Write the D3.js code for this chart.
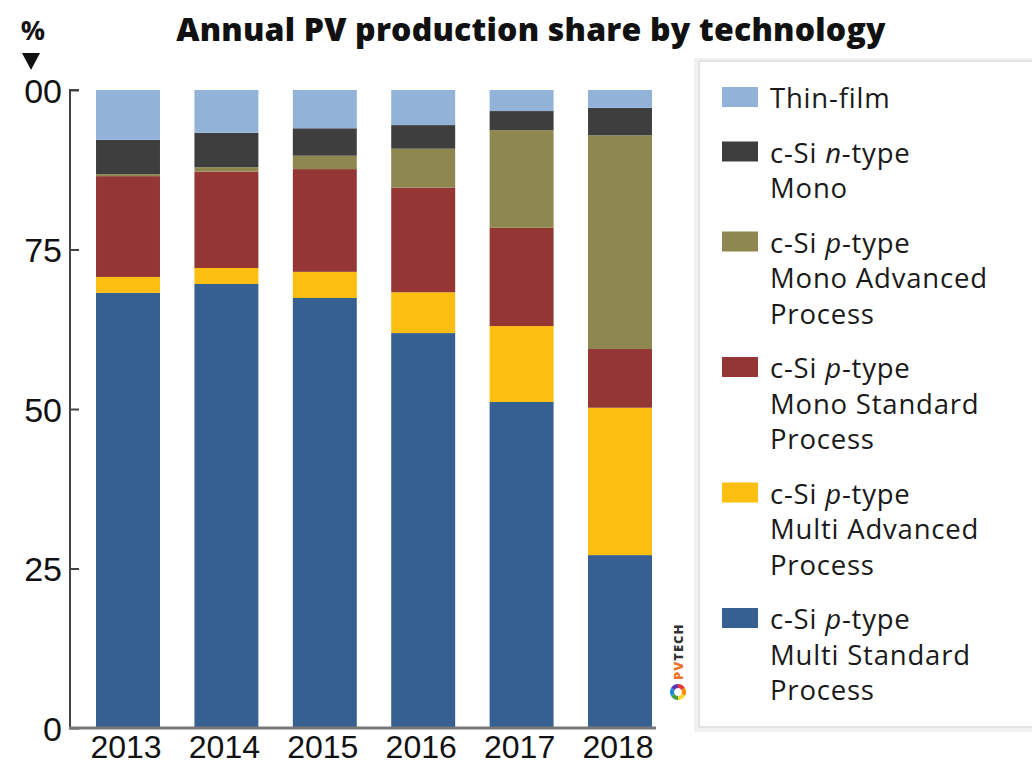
<!DOCTYPE html>
<html>
<head>
<meta charset="utf-8">
<script src="https://cdn.jsdelivr.net/npm/d3@7"></script>
<style>
  body { margin: 0; background: #fff; }
  svg { display: block; }
</style>
</head>
<body>
<div id="chart"></div>
<script>
// Data (% of annual production)
const years = ["2013", "2014", "2015", "2016", "2017", "2018"];
const multiStandard = [68.2, 69.6, 67.4, 61.9, 51.1, 27.1];
const multiAdvanced = [2.5, 2.5, 4.1, 6.4, 11.9, 23.1];
const monoStandard = [15.8, 15.1, 16.1, 16.4, 15.4, 9.2];
const monoAdvanced = [0.3, 0.7, 2.1, 6.1, 15.3, 33.5];
const nTypeMono = [5.4, 5.4, 4.3, 3.7, 3.0, 4.3];
const thinFilm = [7.8, 6.7, 6.0, 5.5, 3.3, 2.8];
const yTicks = [0, 25, 50, 75, 100];

// series from bottom to top
const seriesKeys = ["multiStd", "multiAdv", "monoStd", "monoAdv", "nType", "thin"];
const colors = {
  multiStd: "#365f92",
  multiAdv: "#fcbe10",
  monoStd: "#933634",
  monoAdv: "#8e8750",
  nType: "#3e3e3e",
  thin: "#93b2d8"
};

// legend, top to bottom. [before italic, italic, after] for each line
const legendItems = [
  { key: "thin", lines: [["Thin-film"]] },
  { key: "nType", lines: [["c-Si ", "n", "-type"], ["Mono"]] },
  { key: "monoAdv", lines: [["c-Si ", "p", "-type"], ["Mono Advanced"], ["Process"]] },
  { key: "monoStd", lines: [["c-Si ", "p", "-type"], ["Mono Standard"], ["Process"]] },
  { key: "multiAdv", lines: [["c-Si ", "p", "-type"], ["Multi Advanced"], ["Process"]] },
  { key: "multiStd", lines: [["c-Si ", "p", "-type"], ["Multi Standard"], ["Process"]] }
];

const table = years.map((y, i) => ({
  year: y,
  multiStd: multiStandard[i],
  multiAdv: multiAdvanced[i],
  monoStd: monoStandard[i],
  monoAdv: monoAdvanced[i],
  nType: nTypeMono[i],
  thin: thinFilm[i]
}));

const width = 1032, height = 767;
const plotLeft = 70, plotBottom = 728, plotTop = 90;

const svg = d3.select("#chart").append("svg")
  .attr("width", width)
  .attr("height", height);

const textFont = "'Open Sans', Lato, sans-serif";
const numFont = "'Liberation Sans', Arial, sans-serif";

const x = d3.scaleBand()
  .domain(years)
  .range([78.8, 669.2])
  .paddingInner(0.35)
  .paddingOuter(0.175);

const y = d3.scaleLinear()
  .domain([0, 100])
  .range([plotBottom, plotTop]);

const stacked = d3.stack().keys(seriesKeys)(table);

// bars
svg.append("g")
  .selectAll("g")
  .data(stacked)
  .join("g")
    .attr("fill", d => colors[d.key])
  .selectAll("rect")
  .data(d => d)
  .join("rect")
    .attr("x", d => x(d.data.year))
    .attr("y", d => y(d[1]))
    .attr("width", x.bandwidth())
    .attr("height", d => y(d[0]) - y(d[1]));

// y axis
const yAxis = svg.append("g")
  .attr("transform", `translate(${plotLeft},0)`)
  .call(d3.axisRight(y).tickValues(yTicks).tickSize(9)
    .tickFormat(d => d === 100 ? "00" : d));
yAxis.select(".domain").attr("stroke", "#444").attr("stroke-width", 2)
  .attr("d", `M9,${plotTop}H0V${plotBottom}`);
yAxis.selectAll(".tick line").attr("stroke", "#444").attr("stroke-width", 2);
yAxis.selectAll(".tick text")
  .attr("x", -8)
  .attr("text-anchor", "end")
  .attr("dy", "0.36em")
  .attr("fill", "#111")
  .style("font-family", numFont)
  .style("font-size", "34px");

// baseline
svg.append("line")
  .attr("x1", plotLeft - 1).attr("x2", 656)
  .attr("y1", plotBottom).attr("y2", plotBottom)
  .attr("stroke", "#777")
  .attr("stroke-width", 3);

// x labels
svg.append("g")
  .selectAll("text")
  .data(years)
  .join("text")
    .attr("x", d => x(d) + x.bandwidth() / 2 - 2)
    .attr("y", 758)
    .attr("text-anchor", "middle")
    .attr("fill", "#111")
    .style("font-family", numFont)
    .style("font-size", "32px")
    .text(d => d);

// title
svg.append("text")
  .attr("x", 531)
  .attr("y", 41)
  .attr("text-anchor", "middle")
  .attr("fill", "#111")
  .style("font-family", textFont)
  .style("font-weight", "800")
  .style("font-size", "32px")
  .style("letter-spacing", "0.2px")
  .text("Annual PV production share by technology");

// % unit with arrow
svg.append("text")
  .attr("x", 33)
  .attr("y", 40)
  .attr("text-anchor", "middle")
  .attr("fill", "#111")
  .style("font-family", textFont)
  .style("font-weight", "700")
  .style("font-size", "27px")
  .text("%");
svg.append("path")
  .attr("d", "M22,53L40,53L31,70Z")
  .attr("fill", "#111");

// watermark
const wm = svg.append("g").attr("transform", "translate(678,0)");
wm.append("text")
  .attr("transform", "translate(5,680) rotate(-90)")
  .style("font-family", textFont)
  .style("font-weight", "800")
  .style("font-size", "13px")
  .style("letter-spacing", "1px")
  .selectAll("tspan")
  .data([["PV", "#e8742a"], ["TECH", "#333"]])
  .join("tspan")
    .attr("fill", d => d[1])
    .text(d => d[0]);
const ringColors = ["#e53935", "#fb8c00", "#fdd835", "#43a047", "#1e88e5", "#5e35b1"];
const ringArc = d3.arc().innerRadius(4).outerRadius(8);
wm.append("g")
  .attr("transform", "translate(0,692)")
  .selectAll("path")
  .data(d3.pie().value(1)(ringColors))
  .join("path")
    .attr("d", ringArc)
    .attr("fill", d => d.data);

// legend box
const legend = svg.append("g");
legend.append("rect")
  .attr("x", 694).attr("y", 58)
  .attr("width", 350).attr("height", 674)
  .attr("fill", "#f1f1f1");
legend.append("rect")
  .attr("x", 699).attr("y", 61)
  .attr("width", 340).attr("height", 666)
  .attr("fill", "#fff")
  .attr("stroke", "#dcdcdc")
  .attr("stroke-width", 1.5);

const lineH = 35.5;
let cursor = 108;
legendItems.forEach(item => {
  const g = legend.append("g");
  g.append("rect")
    .attr("x", 722).attr("y", cursor - 21)
    .attr("width", 36).attr("height", 20)
    .attr("fill", colors[item.key]);
  const t = g.append("text")
    .attr("fill", "#1a1a1a")
    .style("font-family", textFont)
    .style("font-size", "27.5px")
    .style("letter-spacing", "0.8px");
  item.lines.forEach((ln, i) => {
    const row = t.append("tspan").attr("x", 770).attr("y", cursor + i * lineH);
    row.append("tspan").text(ln[0]);
    if (ln[1]) row.append("tspan").style("font-style", "italic").text(ln[1]);
    if (ln[2]) row.append("tspan").text(ln[2]);
  });
  cursor += item.lines.length * lineH + 19;
});
</script>
</body>
</html>
